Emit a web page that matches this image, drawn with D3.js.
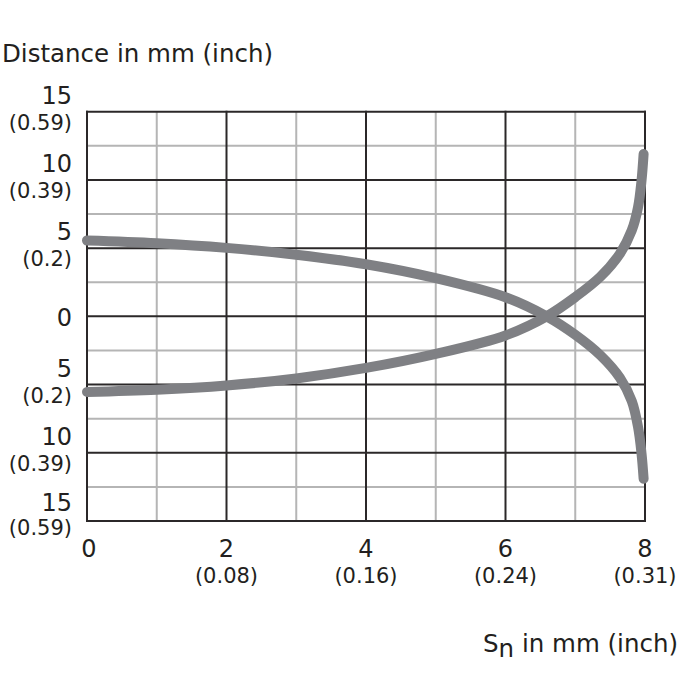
<!DOCTYPE html>
<html>
<head>
<meta charset="utf-8">
<script src="https://cdn.jsdelivr.net/npm/d3@7"></script>
<style>
  body { margin: 0; background: #fff; }
  text { font-family: "DejaVu Sans", sans-serif; fill: #231f20; }
</style>
</head>
<body>
<svg width="680" height="680"></svg>
<script>
// tick values and labels
const xTicks = [0, 2, 4, 6, 8];
const xInch = ["", "(0.08)", "(0.16)", "(0.24)", "(0.31)"];
const yTicks = [15, 10, 5, 0, -5, -10, -15];
const yLabels = ["15", "10", "5", "0", "5", "10", "15"];
const yInch = ["(0.59)", "(0.39)", "(0.2)", "", "(0.2)", "(0.39)", "(0.59)"];

// curves (Sn in mm, distance in mm)
const snX = [0, 1, 2, 3, 4, 5, 6, 6.59, 7, 7.36, 7.64, 7.81, 7.90, 7.95, 7.98];
const upperY = [5.56, 5.36, 5.02, 4.52, 3.82, 2.8, 1.4, 0, -1.35, -2.85, -4.5, -6.2, -8.1, -10.05, -11.9];
const lowerY = [-5.54, -5.38, -5.07, -4.55, -3.78, -2.75, -1.4, 0, 1.41, 2.9, 4.59, 6.3, 8.0, 9.95, 11.9];

const svg = d3.select("svg");

let x = d3.scaleLinear().domain([0, 8]).range([87, 645]);
let y = d3.scaleLinear().domain([-15, 15]).range([521, 111.7]);

// grid: minor grey first, then black majors on top
const vLines = d3.range(0, 9);
const hLines = d3.range(-15, 15.1, 2.5);

let grid = svg.append("g");
grid.selectAll(".vminor").data(vLines.filter(d => d % 2 != 0)).enter()
    .append("line")
    .attr("x1", d => x(d)).attr("x2", d => x(d))
    .attr("y1", y(15)).attr("y2", y(-15))
    .attr("stroke", "#b5b5b5").attr("stroke-width", 2);
grid.selectAll(".hminor").data(hLines.filter(d => d % 5 != 0)).enter()
    .append("line")
    .attr("x1", x(0)).attr("x2", x(8))
    .attr("y1", d => y(d)).attr("y2", d => y(d))
    .attr("stroke", "#b5b5b5").attr("stroke-width", 2);
grid.selectAll(".vmajor").data(vLines.filter(d => d % 2 == 0)).enter()
    .append("line")
    .attr("x1", d => x(d)).attr("x2", d => x(d))
    .attr("y1", y(15) - 1).attr("y2", y(-15) + 1)
    .attr("stroke", "#2b2829").attr("stroke-width", 2);
grid.selectAll(".hmajor").data(hLines.filter(d => d % 5 == 0)).enter()
    .append("line")
    .attr("x1", x(0) - 1).attr("x2", x(8) + 1)
    .attr("y1", d => y(d)).attr("y2", d => y(d))
    .attr("stroke", "#2b2829").attr("stroke-width", 2);

// curves
let line = d3.line().x(d => x(d[0])).y(d => y(d[1])).curve(d3.curveCatmullRom.alpha(0.5));
[d3.zip(snX, upperY), d3.zip(snX, lowerY)].forEach(pts => {
    svg.append("path")
        .attr("d", line(pts))
        .attr("fill", "none")
        .attr("stroke", "#7f8084")
        .attr("stroke-width", 10)
        .attr("stroke-linecap", "round");
});

// y labels
let yl = svg.append("g").attr("text-anchor", "end");
yTicks.forEach((t, i) => {
    let last = i == yTicks.length - 1;
    let big = t == 0 ? 10 : (last ? -10 : -8);
    yl.append("text").attr("x", 72).attr("y", y(t) + big)
        .attr("font-size", 24).text(yLabels[i]);
    if (yInch[i]) {
        yl.append("text").attr("x", 72).attr("y", y(t) + (last ? 14 : 18))
            .attr("font-size", 21).text(yInch[i]);
    }
});

// x labels
let xl = svg.append("g").attr("text-anchor", "middle");
xTicks.forEach((t, i) => {
    xl.append("text").attr("x", x(t) + (t == 0 ? 2 : 0)).attr("y", 557)
        .attr("font-size", 24).text(t);
    if (xInch[i]) {
        xl.append("text").attr("x", x(t)).attr("y", 583)
            .attr("font-size", 21).text(xInch[i]);
    }
});

// titles
svg.append("text").attr("x", 2).attr("y", 62).attr("font-size", 24.5)
    .text("Distance in mm (inch)");

let xt = svg.append("text").attr("x", 678).attr("y", 652)
    .attr("text-anchor", "end").attr("font-size", 24.5);
xt.append("tspan").text("S");
xt.append("tspan").attr("dy", 5).text("n");
xt.append("tspan").attr("dy", -5).text(" in mm (inch)");
</script>
</body>
</html>
